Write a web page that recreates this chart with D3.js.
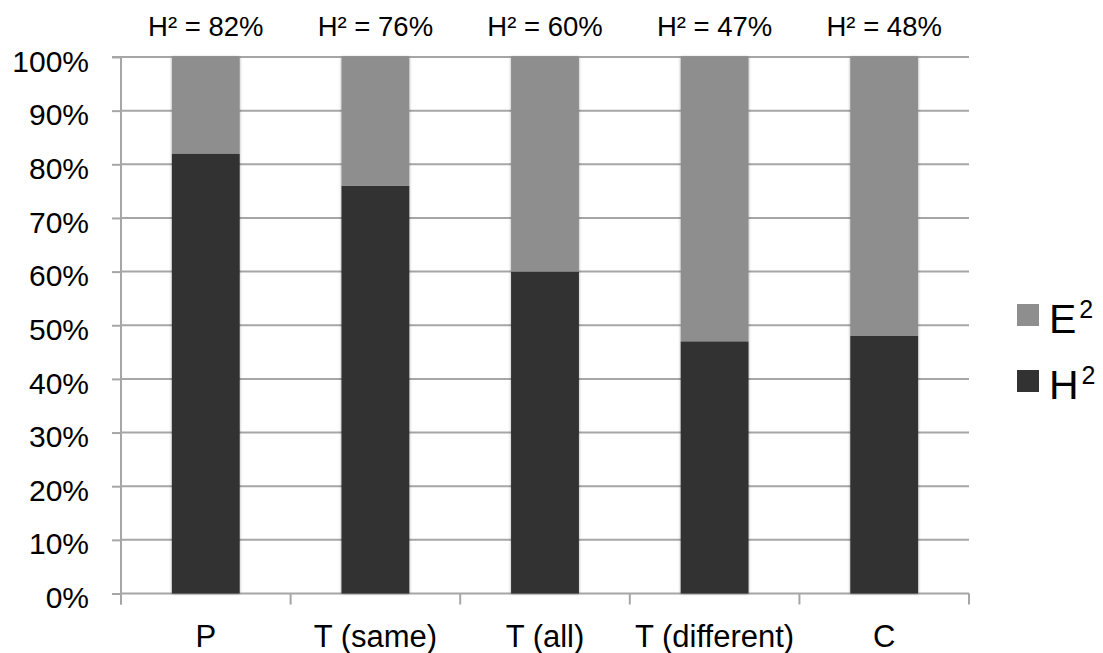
<!DOCTYPE html>
<html>
<head>
<meta charset="utf-8">
<script src="https://cdn.jsdelivr.net/npm/d3@7"></script>
<style>
  html, body { margin: 0; padding: 0; background: #fff; }
  svg { display: block; }
  text { font-family: "Liberation Sans", Arial, sans-serif; fill: #000; }
</style>
</head>
<body>
<svg id="chart" width="1103" height="653"></svg>
<script>
const categories = ["P", "T (same)", "T (all)", "T (different)", "C"];
const h2Values = [82, 76, 60, 47, 48];
const e2Values = [18, 24, 40, 53, 52];
const topLabels = ["H\u00B2 = 82%", "H\u00B2 = 76%", "H\u00B2 = 60%", "H\u00B2 = 47%", "H\u00B2 = 48%"];
const yTicks = [0, 10, 20, 30, 40, 50, 60, 70, 80, 90, 100];
const seriesNames = ["E", "H"];
const seriesColors = ["#8e8e8e", "#323232"];

const svg = d3.select("#chart");
const pLeft = 121, pRight = 969, pTop = 57, pBottom = 593.5;

const x = d3.scaleBand().domain(categories).range([pLeft, pRight]).paddingInner(0.6).paddingOuter(0.3);
const xb = d3.scaleBand().domain(categories).range([pLeft, pRight]);
const y = d3.scaleLinear().domain([0, 100]).range([pBottom, pTop]);

const defs = svg.append("defs");
const f = defs.append("filter").attr("id", "sh").attr("x", "-20%").attr("y", "-5%").attr("width", "140%").attr("height", "110%");
f.append("feGaussianBlur").attr("in", "SourceAlpha").attr("stdDeviation", 1.8).attr("result", "b");
f.append("feComponentTransfer").attr("in", "b").attr("result", "b2")
  .append("feFuncA").attr("type", "linear").attr("slope", 0.35);
const m = f.append("feMerge");
m.append("feMergeNode").attr("in", "b2");
m.append("feMergeNode").attr("in", "SourceGraphic");

const gridColor = "#a6a6a6";

// gridlines
svg.append("g").selectAll("line").data(yTicks.filter(d => d > 0)).join("line")
  .attr("x1", pLeft).attr("x2", pRight)
  .attr("y1", d => y(d)).attr("y2", d => y(d))
  .attr("stroke", gridColor).attr("stroke-width", 2);

// y axis
const yAxis = d3.axisLeft(y).tickValues(yTicks).tickFormat(d => d + "%").tickSize(9).tickPadding(23);
const gy = svg.append("g").attr("transform", `translate(${pLeft},0)`).call(yAxis);
gy.select(".domain").attr("stroke", gridColor).attr("stroke-width", 2)
  .attr("d", `M-9,${pTop}H0V${pBottom + 11}`);
gy.selectAll(".tick line").attr("stroke", gridColor).attr("stroke-width", 2);
gy.selectAll(".tick text").attr("font-size", 30).attr("font-family", "Liberation Sans, Arial, sans-serif")
  .attr("fill", "#000").attr("dy", "0.47em");

// x axis baseline + ticks at category boundaries
svg.append("line").attr("x1", pLeft).attr("x2", pRight).attr("y1", pBottom).attr("y2", pBottom)
  .attr("stroke", gridColor).attr("stroke-width", 2);
const bounds = categories.map(c => xb(c)).concat([xb(categories[categories.length - 1]) + xb.bandwidth()]);
svg.append("g").selectAll("line").data(bounds).join("line")
  .attr("x1", d => d).attr("x2", d => d).attr("y1", pBottom).attr("y2", pBottom + 11)
  .attr("stroke", gridColor).attr("stroke-width", 2);

// bars
const stackData = categories.map((c, i) => ({ cat: c, H: h2Values[i], E: e2Values[i] }));
const stack = d3.stack().keys(["H", "E"])(stackData);
const colorOf = { H: seriesColors[1], E: seriesColors[0] };
svg.append("g").attr("filter", "url(#sh)").selectAll("g").data(stack).join("g")
  .attr("fill", s => colorOf[s.key])
  .selectAll("rect").data(s => s).join("rect")
  .attr("x", d => x(d.data.cat))
  .attr("width", x.bandwidth())
  .attr("y", d => y(d[1]))
  .attr("height", d => y(d[0]) - y(d[1]));

// category labels
svg.append("g").selectAll("text").data(categories).join("text")
  .attr("x", d => xb(d) + xb.bandwidth() / 2).attr("y", 647)
  .attr("text-anchor", "middle").attr("font-size", 31).text(d => d);

// top labels
svg.append("g").selectAll("text").data(topLabels).join("text")
  .attr("x", (d, i) => xb(categories[i]) + xb.bandwidth() / 2).attr("y", 36)
  .attr("text-anchor", "middle").attr("font-size", 27.5).text(d => d);

// legend
const lg = svg.append("g").selectAll("g").data(seriesNames).join("g")
  .attr("transform", (d, i) => `translate(1017,${315 + i * 66})`);
lg.append("rect").attr("x", 0).attr("y", -11).attr("width", 22).attr("height", 22)
  .attr("fill", (d, i) => seriesColors[i]);
const lt = lg.append("text").attr("x", 32).attr("y", 18).attr("font-size", 41);
lt.append("tspan").text(d => d);
lt.append("tspan").attr("dy", -15).attr("dx", 3).attr("font-size", 25).text("2");
</script>
</body>
</html>
